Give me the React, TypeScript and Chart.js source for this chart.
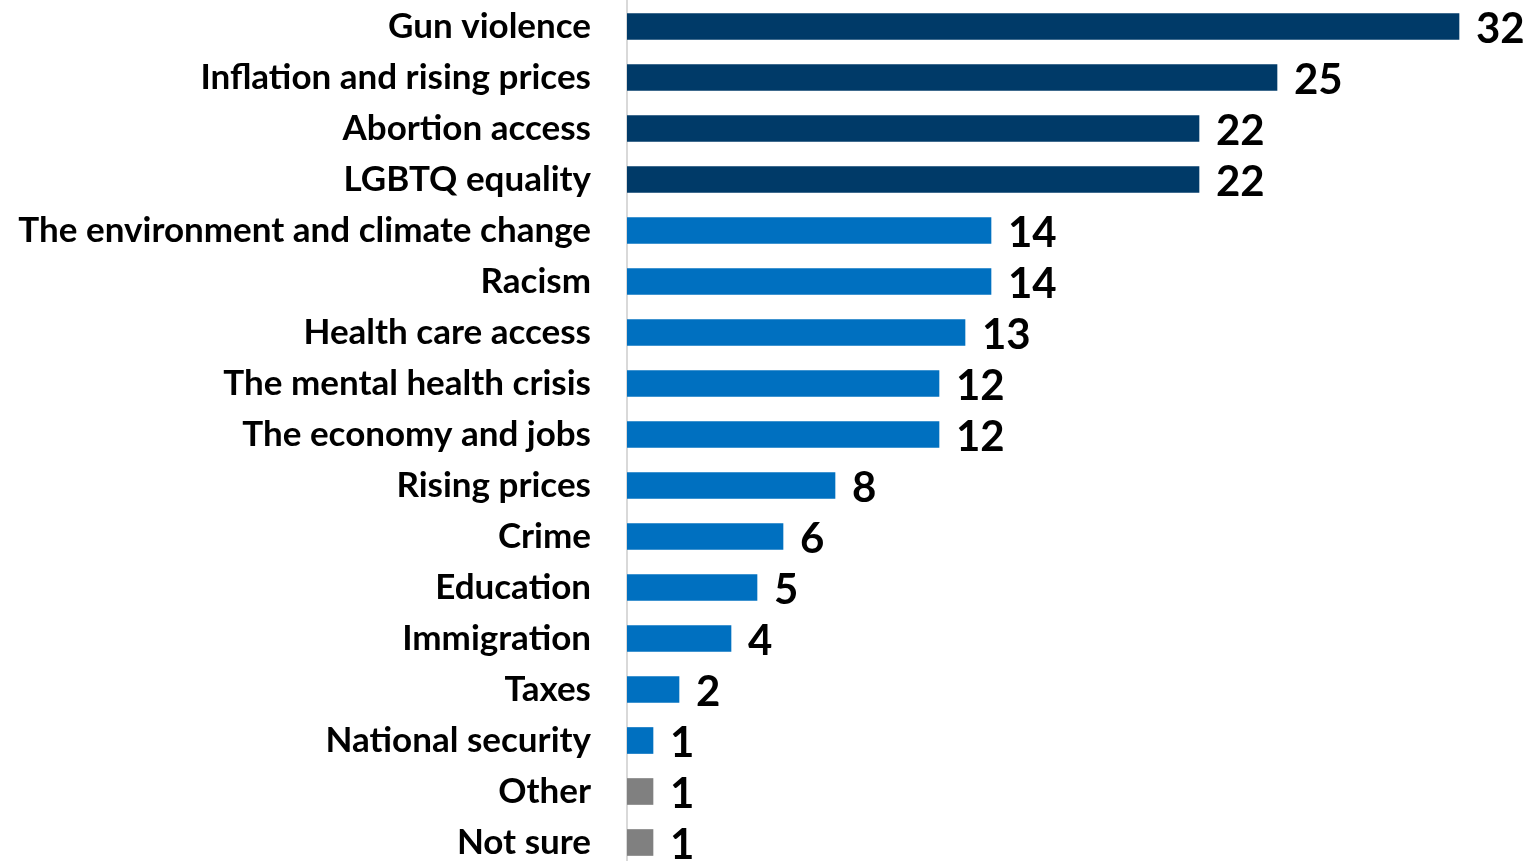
import React, { useEffect, useRef } from "react";
import { Chart, registerables } from "chart.js";

Chart.register(...registerables);

const categories = [
  "Gun violence",
  "Inflation and rising prices",
  "Abortion access",
  "LGBTQ equality",
  "The environment and climate change",
  "Racism",
  "Health care access",
  "The mental health crisis",
  "The economy and jobs",
  "Rising prices",
  "Crime",
  "Education",
  "Immigration",
  "Taxes",
  "National security",
  "Other",
  "Not sure",
];

const values = [32, 25, 22, 22, 14, 14, 13, 12, 12, 8, 6, 5, 4, 2, 1, 1, 1];

const NAVY = "#003A68";
const BLUE = "#0070C0";
const GRAY = "#808080";
const barColors = [
  NAVY, NAVY, NAVY, NAVY,
  BLUE, BLUE, BLUE, BLUE, BLUE, BLUE, BLUE, BLUE, BLUE, BLUE, BLUE,
  GRAY, GRAY,
];

const FONT = "Lato, 'Open Sans', sans-serif";

const valueLabels = {
  id: "valueLabels",
  afterDatasetsDraw(chart: any) {
    const ctx = chart.ctx;
    const meta = chart.getDatasetMeta(0);
    ctx.save();
    ctx.font = `bold 42px ${FONT}`;
    ctx.fillStyle = "#000000";
    ctx.textAlign = "left";
    ctx.textBaseline = "middle";
    meta.data.forEach((bar: any, i: number) => {
      ctx.fillText(String(values[i]), bar.x + 17, bar.y + 3);
    });
    ctx.restore();
  },
};

export default function App() {
  const ref = useRef<HTMLCanvasElement | null>(null);
  useEffect(() => {
    if (!ref.current) return;
    const chart = new Chart(ref.current, {
      type: "bar",
      data: {
        labels: categories,
        datasets: [
          {
            data: values,
            backgroundColor: barColors,
            borderWidth: 0,
            barThickness: 26,
          },
        ],
      },
      options: {
        indexAxis: "y",
        responsive: false,
        animation: false,
        layout: { padding: { top: 1, right: 22, left: 0, bottom: 0 } },
        plugins: {
          legend: { display: false },
          tooltip: { enabled: false },
        },
        scales: {
          x: {
            display: false,
            min: 0,
            max: 34,
          },
          y: {
            afterFit(scale: any) {
              scale.width = 627;
              scale.paddingTop = 0;
              scale.paddingBottom = 0;
            },
            grid: { display: false, drawTicks: false },
            border: { display: true, color: "#D9D9D9", width: 2 },
            ticks: {
              padding: 36,
              color: "#000000",
              font: { family: FONT, size: 35, weight: "bold" },
            },
          },
        },
      },
      plugins: [valueLabels],
    });
    return () => chart.destroy();
  }, []);
  return (
    <div style={{ position: "fixed", left: 0, top: 0, width: 1533, height: 868, background: "#fff" }}>
      <canvas ref={ref} width={1533} height={868} />
    </div>
  );
}
